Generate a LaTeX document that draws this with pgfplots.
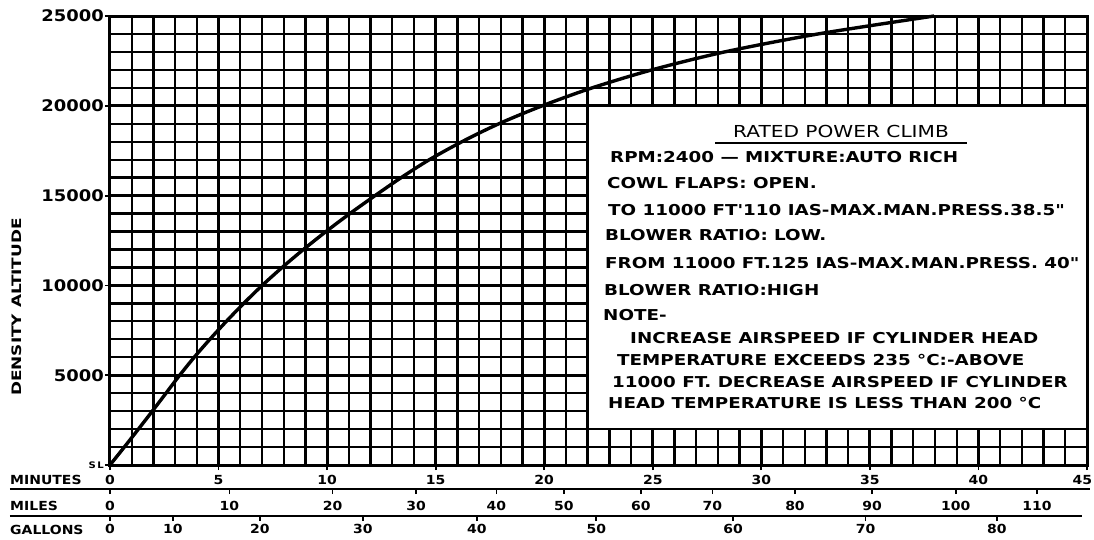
\documentclass[border=0pt]{standalone}
\usepackage{fontspec}
\setmainfont{DejaVu Sans}
\newfontfamily\hand{DejaVu Sans}[FakeStretch=1.12]
\newfontfamily\handbox{DejaVu Sans}[FakeStretch=1.22]
\newfontfamily\handwide{DejaVu Sans}[FakeStretch=1.3]
\usepackage{pgfplots}
\usepackage{pgfplotstable}
\pgfplotsset{compat=1.18}

\pgfplotstableread{
min alt
0 0
0.66 1000
1.31 2000
1.95 3000
2.58 4000
3.21 5000
3.88 6000
4.60 7000
5.36 8000
6.16 9000
7.01 10000
7.93 11000
8.91 12000
9.95 13000
11.05 14000
12.21 15000
13.41 16000
14.71 17000
16.21 18000
17.91 19000
19.91 20000
22.21 21000
24.96 22000
28.31 23000
32.61 24000
37.96 25000
}\climb

\begin{document}
\begin{tikzpicture}
\useasboundingbox (-110pt,-74pt) rectangle (984pt,465pt);
\begin{axis}[
  at={(0pt,0pt)}, anchor=south west,
  scale only axis, width=977pt, height=449pt,
  xmin=0, xmax=45, ymin=0, ymax=25000,
  xtick={0,5,...,45},
  xticklabels={0,5,10,15,20,25,30,35,40,{\makebox[10pt][r]{45}}},
  ytick={0,5000,...,25000},
  yticklabels={{\fontsize{9}{9}\selectfont S\,L},5000,10000,15000,20000,25000},
  scaled y ticks=false, scaled x ticks=false,
  minor x tick num=4, minor y tick num=4,
  grid=both,
  major grid style={black, line width=2.8pt},
  minor grid style={black, line width=2.3pt},
  axis line style={black, line width=3pt},
  tick pos=left, tick align=outside,
  major tick length=5pt, minor tick length=0pt,
  every tick/.style={black, line width=1.8pt},
  xticklabel style={font=\hand\bfseries\fontsize{12.5}{12.5}\selectfont, anchor=center, yshift=-10pt},
  yticklabel style={font=\hand\bfseries\fontsize{16}{16}\selectfont, anchor=east, inner sep=1pt},
  clip=false,
]
\addplot[black, line width=3.4pt, smooth] table[x=min, y=alt] {\climb};
\draw[line width=2.4pt, fill=white] (axis cs:22,2000) rectangle (axis cs:45,20000);
\end{axis}

% miles scale
\begin{axis}[
  at={(0pt,-24pt)}, anchor=south west,
  scale only axis, width=977pt, height=1pt,
  xmin=0, xmax=45, ymin=0, ymax=1,
  hide y axis, axis x line*=bottom,
  x axis line style={draw=none},
  scaled x ticks=false,
  xtick={0,5.5,10.25,14.1,17.8,20.9,24.45,27.75,31.55,35.1,38.95,42.7},
  xticklabels={0,10,20,30,40,50,60,70,80,90,100,110},
  tick align=outside, major tick length=5pt,
  xtick style={black, line width=1.8pt},
  xticklabel style={font=\hand\bfseries\fontsize{12.5}{12.5}\selectfont, anchor=center, yshift=-12pt},
]
\addplot[draw=none] coordinates {(0,0) (45,1)};
\end{axis}

% gallons scale
\begin{axis}[
  at={(0pt,-51pt)}, anchor=south west,
  scale only axis, width=977pt, height=1pt,
  xmin=0, xmax=45, ymin=0, ymax=1,
  hide y axis, axis x line*=bottom,
  x axis line style={draw=none},
  scaled x ticks=false,
  xtick={0,2.9,6.9,11.65,16.9,22.4,28.7,34.8,40.85},
  xticklabels={0,10,20,30,40,50,60,70,80},
  tick align=outside, major tick length=5pt,
  xtick style={black, line width=1.8pt},
  xticklabel style={font=\hand\bfseries\fontsize{12.5}{12.5}\selectfont, anchor=center, yshift=-8pt},
]
\addplot[draw=none] coordinates {(0,0) (45,1)};
\end{axis}

\draw[line width=2pt] (-100pt,-24pt) -- (980pt,-24pt);
\draw[line width=2pt] (-100pt,-51pt) -- (972pt,-51pt);

\node[anchor=west, inner sep=0pt, font=\hand\bfseries\fontsize{12.5}{12.5}\selectfont] at (-100pt,-15pt) {MINUTES};
\node[anchor=west, inner sep=0pt, font=\hand\bfseries\fontsize{12.5}{12.5}\selectfont] at (-100pt,-41pt) {MILES};
\node[anchor=west, inner sep=0pt, font=\hand\bfseries\fontsize{12.5}{12.5}\selectfont] at (-100pt,-65pt) {GALLONS};

\node[rotate=90, inner sep=0pt, font=\handwide\bfseries\fontsize{13}{13}\selectfont] at (-93pt,158pt) {DENSITY ALTITUDE};

% note box text
\node[anchor=base, inner sep=0pt, font=\handbox\fontsize{16.5}{16.5}\selectfont] at (731pt,327pt) {RATED POWER CLIMB};
\draw[line width=1.6pt] (605pt,322pt) -- (857pt,322pt);
\begin{scope}[every node/.style={anchor=base west, inner sep=0pt, font=\handbox\bfseries\fontsize{15}{15}\selectfont}]
\node at (500pt,303pt) {RPM:2400 — MIXTURE:AUTO RICH};
\node at (497pt,277pt) {COWL FLAPS: OPEN.};
\node at (498pt,250pt) {TO 11000 FT'110 IAS-MAX.MAN.PRESS.38.5"};
\node at (495pt,225pt) {BLOWER RATIO: LOW.};
\node at (495pt,197pt) {FROM 11000 FT.125 IAS-MAX.MAN.PRESS. 40"};
\node at (494pt,170pt) {BLOWER RATIO:HIGH};
\node at (493pt,145pt) {NOTE-};
\node at (520pt,122pt) {INCREASE AIRSPEED IF CYLINDER HEAD};
\node at (507pt,100pt) {TEMPERATURE EXCEEDS 235 °C:-ABOVE};
\node at (502pt,78pt) {11000 FT. DECREASE AIRSPEED IF CYLINDER};
\node at (498pt,57pt) {HEAD TEMPERATURE IS LESS THAN 200 °C};
\end{scope}
\end{tikzpicture}
\end{document}
